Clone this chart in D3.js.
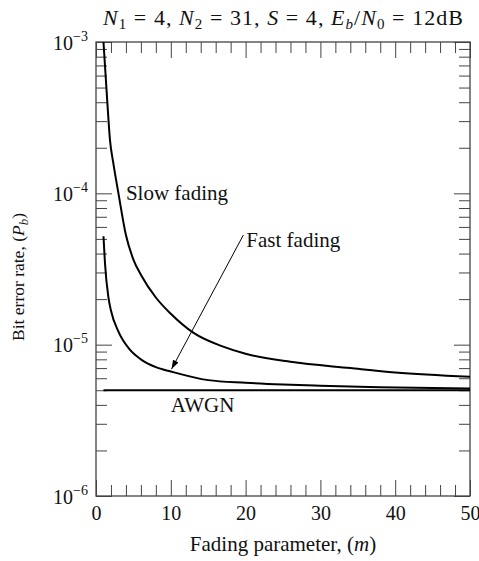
<!DOCTYPE html>
<html>
<head>
<meta charset="utf-8">
<script src="https://cdn.jsdelivr.net/npm/d3@7"></script>
<style>
  body { margin: 0; background: #fff; }
  text { font-family: "Liberation Serif", "Times New Roman", serif; fill: #111; }
</style>
</head>
<body>
<div id="chart"></div>
<script>
// values
const slowM = [1, 1.5, 1.87, 2.3, 3, 4, 5, 6, 8, 10, 13, 17, 20, 26, 34, 40, 50]
const slowP = [1.0e-3, 4.1e-4, 2.25e-4, 1.6e-4, 1.0e-4, 5.3e-5, 3.65e-5, 2.9e-5, 2.05e-5, 1.6e-5, 1.2e-5, 9.7e-6, 8.7e-6, 7.7e-6, 7.0e-6, 6.55e-6, 6.14e-6]

const fastM = [1, 1.2, 1.65, 2, 3, 4.5, 6, 8, 10, 15, 20, 25, 30, 38, 50]
const fastP = [5.2e-5, 3.45e-5, 2.07e-5, 1.68e-5, 1.22e-5, 9.3e-6, 8.0e-6, 7.1e-6, 6.65e-6, 5.83e-6, 5.6e-6, 5.45e-6, 5.35e-6, 5.24e-6, 5.13e-6]

const awgnM = [1, 50]
const awgnP = [5.0e-6, 5.0e-6]

const xMajor = [0, 10, 20, 30, 40, 50]
const yDecades = [-6, -5, -4, -3]

const width = 479
const height = 561
const margin = {top: 42, right: 9, bottom: 65, left: 96}

const svg = d3.select("#chart")
    .append("svg")
    .attr("width", width)
    .attr("height", height)

const x = d3.scaleLinear()
    .domain([0, 50])
    .range([margin.left, width - margin.right])

const y = d3.scaleLog()
    .domain([1e-6, 1e-3])
    .range([height - margin.bottom, margin.top])

const x0 = x.range()[0], x1 = x.range()[1]
const y0 = y.range()[0], y1 = y.range()[1]

svg.append("clipPath")
    .attr("id", "clip")
    .append("rect")
    .attr("x", x0).attr("y", y1)
    .attr("width", x1 - x0).attr("height", y0 - y1)

// minor ticks
const xMinor = d3.range(0, 51, 2).filter(d => d % 10 != 0)
const yMinor = []
for (let e = -6; e < -3; e++) {
    for (let k = 2; k <= 9; k++) yMinor.push(k * Math.pow(10, e))
}
const yMajor = yDecades.map(e => Math.pow(10, e))

const tickColor = "#444"

function drawAxis(axis, tr) {
    const g = svg.append("g").attr("transform", tr).call(axis)
    g.select(".domain").remove()
    g.selectAll("line").attr("stroke", tickColor).attr("stroke-width", 1)
    return g
}

drawAxis(d3.axisBottom(x).tickValues(xMinor).tickSize(-11).tickFormat(""), `translate(0,${y0})`)
drawAxis(d3.axisTop(x).tickValues(xMinor).tickSize(-11).tickFormat(""), `translate(0,${y1})`)
drawAxis(d3.axisTop(x).tickValues(xMajor).tickSize(-16).tickFormat(""), `translate(0,${y1})`)
const xAx = drawAxis(d3.axisBottom(x).tickValues(xMajor).tickSize(-16).tickPadding(0).tickFormat(d3.format("d")), `translate(0,${y0})`)
xAx.selectAll("text")
    .attr("y", 24)
    .attr("dy", 0)
    .style("font-size", "20px")
    .attr("fill", "#111")

drawAxis(d3.axisLeft(y).tickValues(yMinor).tickSize(-11).tickFormat(""), `translate(${x0},0)`)
drawAxis(d3.axisRight(y).tickValues(yMinor).tickSize(-11).tickFormat(""), `translate(${x1},0)`)
drawAxis(d3.axisRight(y).tickValues(yMajor).tickSize(-16).tickFormat(""), `translate(${x1},0)`)
const yAx = drawAxis(d3.axisLeft(y).tickValues(yMajor).tickSize(-16).tickFormat(""), `translate(${x0},0)`)

// y labels like 10^-3
yAx.selectAll(".tick").each(function(d) {
    const t = d3.select(this).append("text")
        .attr("x", -8)
        .attr("y", 7)
        .attr("text-anchor", "end")
        .style("font-size", "20px")
    t.append("tspan").text("10")
    t.append("tspan")
        .attr("dy", -9)
        .style("font-size", "14px")
        .text("\u2212" + Math.abs(Math.round(Math.log10(d))))
})

// frame
svg.append("rect")
    .attr("x", x0).attr("y", y1)
    .attr("width", x1 - x0).attr("height", y0 - y1)
    .attr("fill", "none")
    .attr("stroke", tickColor)
    .attr("stroke-width", 1.3)

const line = d3.line()
    .x(d => x(d[0]))
    .y(d => y(d[1]))
    .curve(d3.curveMonotoneX)

const series = [
    d3.zip(slowM, slowP),
    d3.zip(fastM, fastP),
    d3.zip(awgnM, awgnP)
]

svg.append("g")
    .attr("clip-path", "url(#clip)")
    .selectAll("path")
    .data(series)
    .join("path")
    .attr("d", line)
    .attr("fill", "none")
    .attr("stroke", "#000")
    .attr("stroke-width", 2)

// arrow to fast fading curve
svg.append("defs").append("marker")
    .attr("id", "arrow")
    .attr("viewBox", "0 0 10 10")
    .attr("refX", 10).attr("refY", 5)
    .attr("markerWidth", 9).attr("markerHeight", 9)
    .attr("markerUnits", "userSpaceOnUse")
    .attr("orient", "auto")
    .append("path")
    .attr("d", "M0,1.5 L10,5 L0,8.5 Z")
    .attr("fill", "#000")

svg.append("line")
    .attr("x1", x(19.7)).attr("y1", y(5.3e-5))
    .attr("x2", x(10.1)).attr("y2", y(6.9e-6))
    .attr("stroke", "#000")
    .attr("stroke-width", 1)
    .attr("marker-end", "url(#arrow)")

// curve labels
const labels = [
    {text: "Slow fading", m: 4.0, p: 1e-4, dy: 7},
    {text: "Fast fading", m: 20.1, p: 5.3e-5, dy: 12},
    {text: "AWGN", m: 10.0, p: 5.0e-6, dy: 22}
]
svg.selectAll(".lab")
    .data(labels)
    .join("text")
    .attr("class", "lab")
    .attr("x", d => x(d.m))
    .attr("y", d => y(d.p) + d.dy)
    .style("font-size", "21px")
    .text(d => d.text)

// title
const eq = " = "
const title = svg.append("text")
    .attr("x", 103)
    .attr("y", 25)
    .attr("textLength", 360)
    .attr("lengthAdjust", "spacing")
    .style("font-size", "22px")
title.append("tspan").style("font-style", "italic").text("N")
title.append("tspan").attr("dy", 4).style("font-size", "15px").text("1")
title.append("tspan").attr("dy", -4).text(eq + "4, ")
title.append("tspan").style("font-style", "italic").text("N")
title.append("tspan").attr("dy", 4).style("font-size", "15px").text("2")
title.append("tspan").attr("dy", -4).text(eq + "31, ")
title.append("tspan").style("font-style", "italic").text("S")
title.append("tspan").text(eq + "4, ")
title.append("tspan").style("font-style", "italic").text("E")
title.append("tspan").attr("dy", 4).style("font-size", "15px").style("font-style", "italic").text("b")
title.append("tspan").attr("dy", -4).text("/")
title.append("tspan").style("font-style", "italic").text("N")
title.append("tspan").attr("dy", 4).style("font-size", "15px").text("0")
title.append("tspan").attr("dy", -4).text(eq + "12dB")

// axis titles
const xt = svg.append("text")
    .attr("x", (x0 + x1) / 2)
    .attr("y", 551)
    .attr("text-anchor", "middle")
    .style("font-size", "21px")
xt.append("tspan").text("Fading parameter, (")
xt.append("tspan").style("font-style", "italic").text("m")
xt.append("tspan").text(")")

const yt = svg.append("text")
    .attr("transform", "translate(24,277) rotate(-90)")
    .attr("text-anchor", "middle")
    .style("font-size", "17.5px")
yt.append("tspan").text("Bit error rate, (")
yt.append("tspan").style("font-style", "italic").text("P")
yt.append("tspan").attr("dy", 4).style("font-size", "13px").style("font-style", "italic").text("b")
yt.append("tspan").attr("dy", -4).text(")")
</script>
</body>
</html>
